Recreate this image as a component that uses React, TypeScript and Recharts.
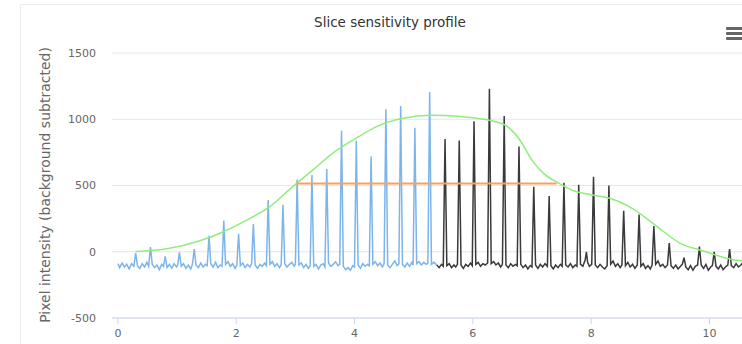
import { LineChart, Line, XAxis, YAxis, CartesianGrid } from "recharts";

type Pt = [number, number];

// measured profile, blue half (x in mm-ish units, y = pixel intensity)
const blueTrace: Pt[] = [
  [0.0, -90], [0.03, -120], [0.07, -85], [0.11, -115], [0.15, -95], [0.19, -130], [0.23, -90], [0.27, -110],
  [0.3, -10], [0.33, -105], [0.37, -125], [0.41, -90], [0.45, -115], [0.49, -80], [0.52, -110],
  [0.55, 35], [0.58, -95], [0.62, -120], [0.66, -100], [0.7, -135], [0.74, -95], [0.77, -110],
  [0.8, -35], [0.83, -120], [0.87, -95], [0.91, -125], [0.95, -90], [0.99, -115], [1.01, -100],
  [1.04, -5], [1.07, -110], [1.11, -90], [1.15, -125], [1.19, -100], [1.23, -130], [1.26, -95],
  [1.29, 20], [1.32, -100], [1.36, -120], [1.4, -85], [1.44, -115], [1.48, -95], [1.51, -105],
  [1.54, 120], [1.57, -90], [1.61, -115], [1.65, -80], [1.69, -120], [1.73, -100], [1.76, -110],
  [1.79, 235], [1.82, -95], [1.86, -75], [1.9, -110], [1.94, -90], [1.98, -125], [2.01, -100],
  [2.04, 135], [2.07, -105], [2.11, -85], [2.15, -120], [2.19, -95], [2.23, -115], [2.26, -90],
  [2.29, 210], [2.32, -100], [2.36, -125], [2.4, -95], [2.44, -110], [2.48, -85], [2.51, -105],
  [2.54, 390], [2.57, -95], [2.61, -75], [2.65, -110], [2.69, -90], [2.73, -120], [2.76, -100],
  [2.79, 355], [2.82, -90], [2.86, -115], [2.9, -95], [2.94, -80], [2.98, -110], [3.0, -95],
  [3.03, 545], [3.06, -100], [3.1, -85], [3.14, -120], [3.18, -95], [3.22, -125], [3.25, -105],
  [3.28, 580], [3.31, -110], [3.35, -95], [3.39, -130], [3.43, -100], [3.47, -90], [3.5, -115],
  [3.53, 625], [3.56, -85], [3.6, -110], [3.64, -95], [3.68, -75], [3.72, -105], [3.75, -95],
  [3.78, 915], [3.81, -110], [3.85, -135], [3.89, -120], [3.93, -140], [3.97, -105], [4.0, -115],
  [4.03, 840], [4.06, -100], [4.1, -125], [4.14, -90], [4.18, -110], [4.22, -95], [4.25, -105],
  [4.28, 720], [4.31, -95], [4.35, -75], [4.39, -105], [4.43, -85], [4.47, -115], [4.5, -90],
  [4.53, 1075], [4.56, -100], [4.6, -120], [4.64, -95], [4.68, -70], [4.72, -105], [4.75, -90],
  [4.78, 1100], [4.81, -95], [4.85, -115], [4.89, -85], [4.93, -110], [4.97, -80], [4.99, -100],
  [5.02, 935], [5.05, -90], [5.09, -75], [5.13, -100], [5.17, -80], [5.21, -95], [5.24, -85],
  [5.27, 1205], [5.3, -95], [5.34, -80], [5.39, -100],
];

// second half, drawn dark
const blackTrace: Pt[] = [
  [5.39, -100], [5.43, -120], [5.47, -95], [5.5, -110],
  [5.53, 850], [5.56, -105], [5.6, -90], [5.64, -120], [5.68, -100], [5.71, -115], [5.74, -95],
  [5.77, 840], [5.8, -100], [5.84, -125], [5.88, -95], [5.92, -110], [5.96, -85], [5.99, -105],
  [6.02, 985], [6.05, -95], [6.09, -80], [6.13, -110], [6.17, -90], [6.21, -100], [6.25, -85],
  [6.28, 1230], [6.31, -90], [6.35, -75], [6.39, -100], [6.43, -85], [6.47, -115], [6.5, -95],
  [6.53, 1025], [6.56, -100], [6.6, -120], [6.64, -90], [6.68, -110], [6.72, -95], [6.75, -105],
  [6.78, 795], [6.81, -95], [6.85, -120], [6.89, -100], [6.93, -130], [6.97, -105], [7.0, -115],
  [7.03, 490], [7.06, -100], [7.1, -125], [7.14, -95], [7.18, -115], [7.22, -90], [7.26, -110],
  [7.29, 420], [7.32, -105], [7.36, -130], [7.4, -100], [7.44, -120], [7.48, -95], [7.51, -110],
  [7.54, 520], [7.57, -100], [7.61, -115], [7.65, -90], [7.69, -120], [7.73, -100], [7.76, -110],
  [7.79, 505], [7.82, -95], [7.86, -110], [7.9, -60], [7.92, 0], [7.94, -80], [7.97, -110], [8.01, -95],
  [8.04, 565], [8.07, -100], [8.11, -120], [8.15, -95], [8.19, -115], [8.23, -130], [8.27, -105],
  [8.3, 500], [8.33, -95], [8.37, -70], [8.41, -110], [8.45, -90], [8.49, -120], [8.52, -100],
  [8.55, 310], [8.58, -105], [8.62, -80], [8.66, -115], [8.7, -95], [8.74, -125], [8.78, -100],
  [8.81, 280], [8.84, -110], [8.88, -90], [8.92, -125], [8.96, -105], [9.0, -130], [9.03, -100],
  [9.06, 195], [9.09, -95], [9.13, -70], [9.17, -110], [9.21, -95], [9.25, -120], [9.29, -100],
  [9.32, 65], [9.35, -105], [9.39, -125], [9.43, -100], [9.47, -130], [9.51, -110], [9.54, -95],
  [9.57, -45], [9.6, -115], [9.64, -135], [9.68, -105], [9.72, -140], [9.76, -110], [9.8, -100],
  [9.83, 40], [9.86, -100], [9.9, -125], [9.94, -95], [9.98, -140], [10.02, -115], [10.05, -105],
  [10.08, 0], [10.11, -110], [10.15, -130], [10.19, -100], [10.23, -135], [10.27, -115], [10.31, -100],
  [10.34, 20], [10.37, -105], [10.41, -120], [10.45, -90], [10.49, -115], [10.53, -100], [10.57, -80], [10.61, -105],
];

// smooth fit over the peak tops
const fitCurve: Pt[] = [
  [0.3, 2], [0.8, 20], [1.4, 85], [1.8, 155], [2.2, 245], [2.55, 335], [2.95, 490], [3.3, 620],
  [3.65, 750], [4.0, 850], [4.4, 950], [4.8, 1005], [5.3, 1030], [5.8, 1020], [6.3, 990], [6.55, 955],
  [6.8, 840], [7.0, 690], [7.2, 590], [7.45, 518], [7.7, 460], [8.0, 430], [8.3, 405], [8.7, 325],
  [9.1, 195], [9.5, 65], [9.9, 5], [10.4, -60], [10.6, -70],
];

// half-maximum line
const fwhmLine: Pt[] = [[3.02, 515], [7.42, 515]];

const xTicks = [0, 2, 4, 6, 8, 10];
const yTicks = [-500, 0, 500, 1000, 1500];

const toRows = (pts: Pt[]) => pts.map(([x, y]) => ({ x, y }));

const font = "'DejaVu Sans', sans-serif";

const App = () => {
  return (
    <div style={{ position: "absolute", left: 0, top: 0, width: 742, height: 344, overflow: "hidden", background: "#fff" }}>
      <LineChart width={742} height={344} margin={{ top: 53, right: 0, bottom: 0, left: 52 }}>
        <CartesianGrid vertical={false} stroke="#e6e6e6" />
        <XAxis
          type="number"
          dataKey="x"
          domain={[-0.1, 10.55]}
          ticks={xTicks}
          allowDataOverflow
          height={26}
          tickSize={6}
          tickMargin={5}
          axisLine={{ stroke: "#ccd6eb" }}
          tickLine={{ stroke: "#ccd6eb" }}
          tick={{ fill: "#666", fontSize: 11, fontFamily: font }}
        />
        <YAxis
          type="number"
          dataKey="y"
          domain={[-500, 1500]}
          ticks={yTicks}
          allowDataOverflow
          width={60}
          axisLine={false}
          tickLine={false}
          tickSize={0}
          tickMargin={16}
          tick={{ fill: "#666", fontSize: 11, fontFamily: font }}
        />
        <Line data={toRows(blueTrace)} dataKey="y" stroke="#7cb5ec" strokeWidth={1.5} dot={false} type="linear" isAnimationActive={false} />
        <Line data={toRows(blackTrace)} dataKey="y" stroke="#3a3a3e" strokeWidth={1.5} dot={false} type="linear" isAnimationActive={false} />
        <Line data={toRows(fitCurve)} dataKey="y" stroke="#90ed7d" strokeWidth={1.5} dot={false} type="monotone" isAnimationActive={false} />
        <Line data={toRows(fwhmLine)} dataKey="y" stroke="#f7a35c" strokeWidth={2} dot={false} type="linear" isAnimationActive={false} />
      </LineChart>
      <svg width={742} height={344} style={{ position: "absolute", left: 0, top: 0, pointerEvents: "none" }}>
        <path d="M20.5 350 L20.5 4.5 L760 4.5" stroke="#ececec" fill="none" />
        <text x={390} y={27} textAnchor="middle" fontSize={13.5} fill="#333" fontFamily={font}>
          Slice sensitivity profile
        </text>
        <text transform="translate(50,185) rotate(-90)" textAnchor="middle" fontSize={14} fill="#666" fontFamily={font}>
          Pixel intensity (background subtracted)
        </text>
        <rect x={726} y={27} width={18} height={3} rx={1} fill="#666" />
        <rect x={726} y={32} width={18} height={3} rx={1} fill="#666" />
        <rect x={726} y={37} width={18} height={3} rx={1} fill="#666" />
      </svg>
    </div>
  );
};

export default App;
